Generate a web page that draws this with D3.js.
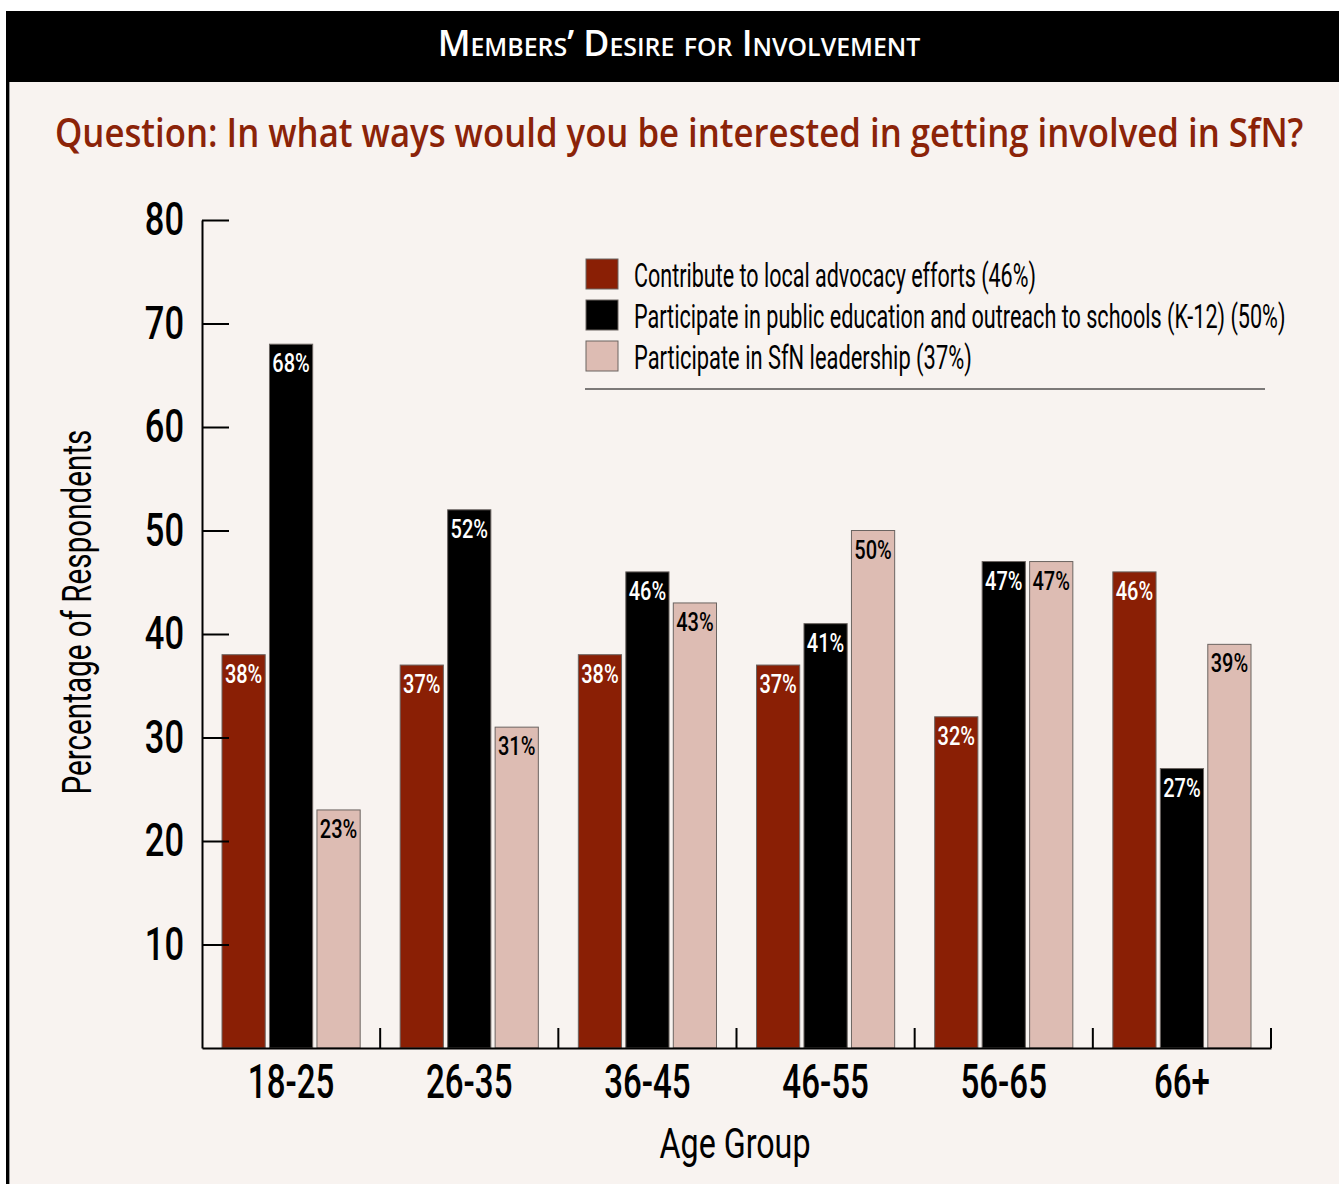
<!DOCTYPE html>
<html>
<head>
<meta charset="utf-8">
<script src="https://cdn.jsdelivr.net/npm/d3@7"></script>
<style>
  html, body { margin: 0; padding: 0; background: #fff; }
  svg { display: block; }
</style>
</head>
<body>
<div id="chart"></div>
<script>
const categories = ['18-25', '26-35', '36-45', '46-55', '56-65', '66+'];
const seriesNames = [
  'Contribute to local advocacy efforts (46%)',
  'Participate in public education and outreach to schools (K-12) (50%)',
  'Participate in SfN leadership (37%)'
];
const advocacy = [38, 37, 38, 37, 32, 46];
const outreach = [68, 52, 46, 41, 47, 27];
const leadership = [23, 31, 43, 50, 47, 39];
const yTicks = [10, 20, 30, 40, 50, 60, 70, 80];

const narrow = "Roboto, 'DejaVu Sans', sans-serif";
const colors = ['#8a1f05', '#000000', '#ddbcb3'];
const labelColors = ['#fff', '#fff', '#000'];

const W = 1339, H = 1184;
const margin = { top: 220, right: 68, bottom: 136, left: 202 };

// squeeze text horizontally (no condensed font available offline)
function squeeze(sel, f) {
  sel.each(function (d, i) {
    const t = d3.select(this);
    const k = typeof f === 'function' ? f.call(this, d, i) : f;
    const x = +t.attr('x') || 0, y = +t.attr('y') || 0;
    const prev = t.attr('transform') || '';
    t.attr('x', 0).attr('y', 0)
      .attr('transform', `${prev} translate(${x},${y}) scale(${k},1)`);
  });
}
function toWidth(w) {
  return function () { return w / this.getComputedTextLength(); };
}

const svg = d3.select('#chart').append('svg')
  .attr('width', W).attr('height', H);

// panel + title bar
svg.append('rect').attr('x', 6).attr('y', 11).attr('width', W - 6).attr('height', H - 11)
  .attr('fill', '#f8f3f0');
svg.append('rect').attr('x', 6).attr('y', 82).attr('width', 3).attr('height', H - 82)
  .attr('fill', '#000');
svg.append('rect').attr('x', 9).attr('y', 82).attr('width', 1).attr('height', H - 82)
  .attr('fill', '#999');
svg.append('rect').attr('x', 6).attr('y', 11).attr('width', W - 6).attr('height', 71)
  .attr('fill', '#000');

svg.append('text')
  .attr('x', 679).attr('y', 56)
  .attr('text-anchor', 'middle')
  .style('font-family', "'Open Sans', sans-serif")
  .style('font-variant', 'small-caps')
  .style('font-weight', 600)
  .style('font-size', '36px')
  .style('fill', '#fff')
  .text('Members’ Desire for Involvement')
  .call(squeeze, toWidth(481));

svg.append('text')
  .attr('x', 55).attr('y', 147)
  .style('font-family', "'Open Sans', sans-serif")
  .style('font-weight', 600)
  .style('font-size', '39px')
  .style('fill', '#8b2308')
  .text('Question: In what ways would you be interested in getting involved in SfN?')
  .call(squeeze, toWidth(1249));

const innerW = W - margin.left - margin.right;
const innerH = H - margin.top - margin.bottom;

const g = svg.append('g').attr('transform', `translate(${margin.left},${margin.top})`);

const x0 = d3.scaleBand().domain(categories).range([0, innerW]);
const x1 = d3.scaleBand().domain([0, 1, 2]).range([20, x0.bandwidth() - 20]).paddingInner(0.09);
const y = d3.scaleLinear().domain([0, 80]).range([innerH, 0]);

const table = categories.map((c, i) => ({
  cat: c,
  values: [advocacy[i], outreach[i], leadership[i]]
}));

// bars
const groups = g.selectAll('.group').data(table).join('g')
  .attr('class', 'group')
  .attr('transform', d => `translate(${x0(d.cat)},0)`);

groups.selectAll('rect').data(d => d.values.map((v, k) => ({ k, v }))).join('rect')
  .attr('x', d => x1(d.k))
  .attr('y', d => y(d.v))
  .attr('width', x1.bandwidth())
  .attr('height', d => innerH - y(d.v))
  .attr('fill', d => colors[d.k])
  .attr('stroke', '#6b6461')
  .attr('stroke-width', 1);

groups.selectAll('text').data(d => d.values.map((v, k) => ({ k, v }))).join('text')
  .attr('x', d => x1(d.k) + x1.bandwidth() / 2)
  .attr('y', d => y(d.v) + 28)
  .attr('text-anchor', 'middle')
  .style('font-family', narrow)
  .style('font-weight', 500)
  .style('font-size', '25px')
  .style('fill', d => labelColors[d.k])
  .text(d => d.v + '%')
  .call(squeeze, 0.8);

// y axis, ticks pointing inward
const yAxis = g.append('g')
  .call(d3.axisLeft(y).tickValues(yTicks).tickSizeInner(-27).tickSizeOuter(0).tickPadding(18));
yAxis.select('.domain').attr('stroke', '#000').attr('stroke-width', 2);
yAxis.selectAll('.tick line').attr('stroke', '#000').attr('stroke-width', 2);
yAxis.selectAll('.tick text')
  .style('font-family', narrow)
  .style('font-weight', 500)
  .style('font-size', '46px')
  .style('fill', '#000')
  .call(squeeze, 0.75);

// x axis
const xAxis = g.append('g')
  .attr('transform', `translate(0,${innerH})`)
  .call(d3.axisBottom(x0).tickSize(0).tickSizeOuter(0));
xAxis.select('.domain').attr('stroke', '#000').attr('stroke-width', 2);
xAxis.selectAll('.tick text')
  .attr('y', 50).attr('dy', 0)
  .style('font-family', narrow)
  .style('font-weight', 500)
  .style('font-size', '48px')
  .style('fill', '#000')
  .call(squeeze, 0.69);

// group divider ticks
g.append('g').selectAll('line').data(categories).join('line')
  .attr('x1', d => x0(d) + x0.bandwidth())
  .attr('x2', d => x0(d) + x0.bandwidth())
  .attr('y1', innerH)
  .attr('y2', innerH - 20)
  .attr('stroke', '#000')
  .attr('stroke-width', 2);

// axis titles
svg.append('text')
  .attr('transform', 'translate(91,612) rotate(-90)')
  .attr('text-anchor', 'middle')
  .style('font-family', narrow)
  .style('font-size', '41px')
  .style('fill', '#000')
  .text('Percentage of Respondents')
  .call(squeeze, toWidth(365));

svg.append('text')
  .attr('x', 735).attr('y', 1158)
  .attr('text-anchor', 'middle')
  .style('font-family', narrow)
  .style('font-size', '42px')
  .style('fill', '#000')
  .text('Age Group')
  .call(squeeze, toWidth(151));

// legend
const legendW = [402, 652, 338];
const legend = svg.append('g').attr('transform', 'translate(586,259)');
const items = legend.selectAll('g').data(seriesNames).join('g')
  .attr('transform', (d, i) => `translate(0,${i * 41})`);
items.append('rect')
  .attr('width', 32).attr('height', 30)
  .attr('fill', (d, i) => colors[i])
  .attr('stroke', '#6b6461').attr('stroke-width', 1);
items.append('text')
  .attr('x', 48).attr('y', 28)
  .style('font-family', narrow)
  .style('font-size', '33px')
  .style('fill', '#000')
  .text(d => d)
  .call(squeeze, function (d, i) { return legendW[i] / this.getComputedTextLength(); });
legend.append('line')
  .attr('x1', -1).attr('x2', 679)
  .attr('y1', 130).attr('y2', 130)
  .attr('stroke', '#000').attr('stroke-width', 1.2);
</script>
</body>
</html>
